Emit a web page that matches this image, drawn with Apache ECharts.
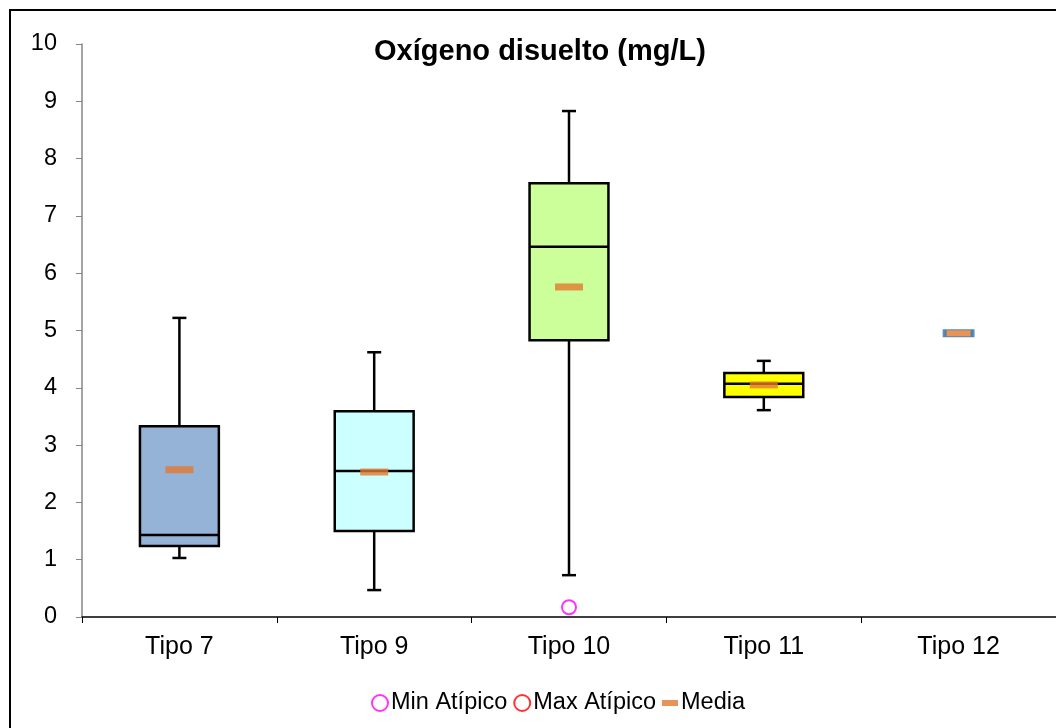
<!DOCTYPE html>
<html><head><meta charset="utf-8">
<script src="https://cdn.jsdelivr.net/npm/echarts@6/dist/echarts.min.js"></script>
<style>html,body{margin:0;padding:0;background:#fff}#c{width:1056px;height:728px}</style>
</head><body><div id="c"></div>
<script>
const categories = ['Tipo 7','Tipo 9','Tipo 10','Tipo 11','Tipo 12'];
const minVals    = [1.03, 0.47, 0.73, 3.61, null];
const q1Vals     = [1.24, 1.50, 4.83, 3.84, null];
const medianVals = [1.43, 2.55, 6.46, 4.07, null];
const q3Vals     = [3.33, 3.59, 7.57, 4.26, null];
const maxVals    = [5.22, 4.62, 8.83, 4.47, null];
const meanVals   = [2.57, 2.53, 5.76, 4.05, 4.95];
const minOutliers = [['Tipo 10', 0.17]];
const maxOutliers = [];
const boxColors = ['#95B3D7','#CCFFFF','#CCFF99','#FFFF00','#FFFFFF'];
const yTicks = [0,1,2,3,4,5,6,7,8,9,10];

const boxData = categories.map((c,i)=>[i, minVals[i], q1Vals[i], medianVals[i], q3Vals[i], maxVals[i]]).filter(d=>d[1]!=null);

const chart = echarts.init(document.getElementById('c'));
const FONT = 'Liberation Sans, Arial, sans-serif';
chart.setOption({
  animation:false,
  graphic:[
    {type:'rect', shape:{x:10,y:10,width:1100,height:800}, style:{fill:'none', stroke:'#000', lineWidth:2}, silent:true, z:-1},
    {type:'text', x:540, y:52, style:{text:'Oxígeno disuelto (mg/L)', font:'bold 29px '+FONT, fill:'#000', textAlign:'center', textVerticalAlign:'middle'}}
  ],
  grid:{left:82, top:44, width:978, height:573, containLabel:false},
  legend:{
    left:366, top:686, itemGap:6, itemWidth:16, itemHeight:16,
    textStyle:{fontFamily:FONT, fontSize:23.5, color:'#000', padding:[0,0,0,-2]},
    data:[
      {name:'Min Atípico'},
      {name:'Max Atípico'},
      {name:'Media', icon:'path://M0,0H16V6H0Z'}
    ]
  },
  xAxis:{
    type:'category', data:categories, boundaryGap:true,
    axisLine:{lineStyle:{color:'#000', width:1.5}},
    axisTick:{show:true, length:6, lineStyle:{color:'#000'}},
    axisLabel:{fontFamily:FONT, fontSize:25, color:'#000', margin:18}
  },
  yAxis:{
    type:'value', min:0, max:10, interval:1,
    axisLine:{show:true, lineStyle:{color:'#868686', width:1.5}},
    axisTick:{show:true, length:6, lineStyle:{color:'#868686'}},
    axisLabel:{fontFamily:FONT, fontSize:23.5, color:'#000', margin:25, formatter:v=>String(yTicks[v]??v)},
    splitLine:{show:false}
  },
  series:[
    {
      type:'custom', name:'box', data:boxData, z:2,
      renderItem:function(params, api){
        const i = api.value(0);
        const w = api.size([1,0])[0]*0.405;
        const cap = 14;
        const pMin = api.coord([i, api.value(1)]);
        const pQ1 = api.coord([i, api.value(2)]);
        const pMed = api.coord([i, api.value(3)]);
        const pQ3 = api.coord([i, api.value(4)]);
        const pMax = api.coord([i, api.value(5)]);
        const x = pQ1[0];
        const ls = {stroke:'#000', lineWidth:2.5};
        return {type:'group', children:[
          {type:'line', shape:{x1:x,y1:pMax[1],x2:x,y2:pQ3[1]}, style:ls},
          {type:'line', shape:{x1:x,y1:pQ1[1],x2:x,y2:pMin[1]}, style:ls},
          {type:'line', shape:{x1:x-cap/2,y1:pMax[1],x2:x+cap/2,y2:pMax[1]}, style:ls},
          {type:'line', shape:{x1:x-cap/2,y1:pMin[1],x2:x+cap/2,y2:pMin[1]}, style:ls},
          {type:'rect', shape:{x:x-w/2, y:pQ3[1], width:w, height:pQ1[1]-pQ3[1]}, style:{fill:boxColors[i], stroke:'#000', lineWidth:2.5}},
          {type:'line', shape:{x1:x-w/2,y1:pMed[1],x2:x+w/2,y2:pMed[1]}, style:ls}
        ]};
      }
    },
    {
      type:'scatter', name:'Media', z:5,
      symbol:'rect', symbolSize:[28,7],
      data: meanVals.map((v,i)=>({value:[categories[i], v], itemStyle: i===4 ? {color:'#E2792F', borderColor:'#2E75B6', borderWidth:2} : {color:'#E2792F'}})),
      itemStyle:{color:'#E2792F'}
    },
    {
      type:'scatter', name:'Min Atípico', z:5,
      symbol:'emptyCircle', symbolSize:14,
      data:minOutliers,
      itemStyle:{color:'#FF00FF', borderWidth:2.2}
    },
    {
      type:'scatter', name:'Max Atípico', z:5,
      symbol:'emptyCircle', symbolSize:14,
      data:maxOutliers,
      itemStyle:{color:'#FF0000', borderWidth:2.2}
    }
  ]
});
</script></body></html>
